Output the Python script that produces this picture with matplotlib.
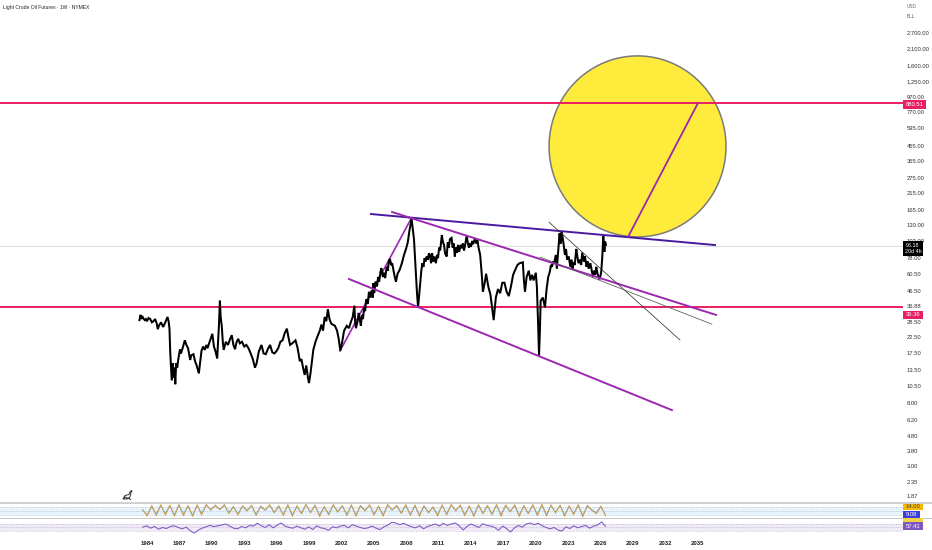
import numpy as np
import matplotlib
matplotlib.use("Agg")
import matplotlib.pyplot as plt
import matplotlib.ticker as mticker
import matplotlib.transforms as mt
from matplotlib.lines import Line2D
from matplotlib.patches import Rectangle

FONT = "Liberation Sans"
plt.rcParams["font.family"] = [FONT, "DejaVu Sans"]

title = "Light Crude Oil Futures · 1W · NYMEX"
price_ticks = [2700, 2100, 1600, 1250, 970, 770, 595, 455, 355, 275, 215, 165, 130, 102, 78,
               60.5, 46.5, 36.88, 28.5, 22.5, 17.5, 13.5, 10.5, 8, 6.2, 4.8, 3.8, 3.0, 2.35, 1.87]
year_ticks = list(range(1984, 2036, 3))

dates = [1983.3,1983.4,1983.5,1983.6,1983.7,1983.8,1983.9,1984.0,1984.15,1984.3,1984.45,1984.6,1984.75,1984.9,
 1985.0,1985.1,1985.3,1985.4,1985.5,1985.65,1985.9,1986.0,1986.08,1986.15,1986.25,1986.3,1986.38,1986.45,1986.55,1986.62,
 1986.7,1986.8,1986.9,1987.05,1987.15,1987.3,1987.5,1987.65,1987.8,1988.0,1988.1,1988.3,1988.45,1988.6,1988.8,
 1989.05,1989.2,1989.35,1989.5,1989.6,1989.75,1990.05,1990.2,1990.35,1990.5,1990.58,1990.67,1990.75,1990.82,1990.92,1991.02,1991.1,
 1991.3,1991.5,1991.7,1991.85,1992.0,1992.15,1992.3,1992.45,1992.6,1992.8,1993.0,1993.2,1993.4,1993.6,1993.8,1994.0,1994.15,
 1994.35,1994.6,1994.8,1995.0,1995.2,1995.4,1995.6,1995.8,1996.0,1996.15,1996.35,1996.55,1996.75,1996.95,1997.1,1997.25,1997.45,
 1997.75,1997.95,1998.15,1998.3,1998.45,1998.6,1998.75,1998.9,1999.0,1999.15,1999.4,1999.6,1999.8,2000.0,2000.15,2000.3,2000.45,
 2000.6,2000.75,2000.9,2001.05,2001.2,2001.4,2001.6,2001.75,2001.9,2002.05,2002.25,2002.5,2002.7,2002.9,2003.05,2003.2,2003.28,2003.35,
 2003.5,2003.6,2003.7,2003.8,2003.9,2004.0,2004.1,2004.2,2004.3,2004.45,2004.55,2004.65,2004.8,2004.9,2004.95,
 2005.05,2005.15,2005.3,2005.4,2005.5,2005.6,2005.7,2005.85,2005.95,2006.05,2006.2,2006.3,2006.4,2006.5,2006.6,2006.7,
 2006.9,2007.05,2007.2,2007.4,2007.6,2007.8,2008.0,2008.15,2008.3,2008.5,2008.6,2008.72,2008.85,2009.0,2009.1,2009.25,
 2009.4,2009.5,2009.6,2009.7,2009.8,2009.9,
 2010.0,2010.1,2010.2,2010.3,2010.4,2010.5,2010.6,2010.75,2010.85,2010.95,
 2011.05,2011.15,2011.3,2011.4,2011.5,2011.6,2011.75,2011.85,2011.95,
 2012.05,2012.2,2012.3,2012.4,2012.5,2012.6,2012.7,2012.8,2012.9,
 2013.05,2013.15,2013.25,2013.35,2013.45,2013.6,2013.7,2013.8,2013.9,
 2014.0,2014.1,2014.2,2014.35,2014.5,2014.6,2014.7,
 2014.85,2015.0,2015.1,2015.25,2015.4,2015.6,2015.8,2016.1,2016.3,
 2016.5,2016.7,2016.9,2017.1,2017.3,2017.5,2017.7,2017.9,2018.1,2018.3,2018.5,2018.8,2018.9,2019.0,2019.15,2019.35,2019.5,2019.65,2019.8,
 2020.0,2020.1,2020.2,2020.3,2020.38,2020.45,2020.65,2020.85,
 2021.0,2021.15,2021.3,2021.4,2021.5,2021.6,2021.7,2021.85,2021.95,
 2022.1,2022.2,2022.3,2022.4,2022.55,2022.7,2022.8,2022.9,
 2023.05,2023.2,2023.3,2023.4,2023.5,2023.6,2023.75,2023.85,2023.95,
 2024.1,2024.2,2024.3,2024.45,2024.55,2024.7,2024.8,2024.9,
 2025.05,2025.15,2025.3,2025.4,2025.5,2025.6,2025.7,2025.8,2025.9,
 2026.05,2026.15,2026.25,2026.35,2026.42,2026.5]
closes = [29.5,32,30.5,31,30,29.5,30,29,30.5,30,28.5,29,30,28,
 25.6,27,28.5,27.5,26.5,28,31,29,26,18,13,11.5,15,12,14,10.8,
 15,14,16,18.6,17.5,19,21.5,20,19,15.8,17,17.3,15.5,14.5,12.8,
 18.3,19.5,18.5,20,19,20.5,23.8,19.5,18,16.2,21,28,40,31,27,21,18.5,
 21,20,22,23.3,20,18.7,21,22,20.5,21,19.5,20,19,17.5,16,14,15,
 18,20,17.5,17.3,18.8,20,17.8,17.5,18.2,19,21,21.5,24,25.8,22.5,20,20.5,
 21.5,19,15.5,16,14,12.5,14.5,12,11,13,18.5,21,23,25,27.5,25,31,
 29,35,30,28,27.5,27,25,22,18.3,20.5,25,27,26,29,31,37,28,26,
 29,33,30,27,32,30,36,34,41,38,46,42,47,42,52.7,
 45,54,50,58,54,62,66.7,58,62,57,68,64,75,77,70,72,
 60,53.8,61,65,72,82,91,100,120,144,125,105,70,45,36,48,
 64,72,68,78,74,80,
 76,84,82,72,84,74,80,72,82,78,
 92,88,112,100,96,84,80,100,92,
 105,107,92,98,80,92,85,96,86,
 96,91,98,88,95,110,100,92,98,
 93,102,97,105,98,103,92,
 82,60,46,52,61,50,44,29.5,42,
 48,45,53,53,46,43,50,60,65,70,72,73,55,46,58,64,55,60,55,
 62,50,30,17,25,40,42,36,
 48,58,63,70,68,74,72,82,66,
 92,115,98,118,100,82,90,76,
 80,68,76,66,73,70,90,80,72,
 76,70,85,74,80,68,74,66,
 72,66,58,64,60,68,62,58,56,
 62,78,110,86,101,96]

stoch_k = [60,12,92,15,98,18,95,10,98,14,92,8,96,20,99,55,95,60,98,30,85,20,90,50,94,15,88,55,97,35,90,15,98,10,90,28,
           99,35,95,8,85,20,98,40,92,15,97,10,92,50,97,18,88,10,99,55,93,30,98,15,96,10,90,35,82,12,97,20,99,50,95,14,
           90,8,98,28,92,20,99,10,96,42,97,8,92,28,98,15,99,12,96,35,95,10,90,22,98,6,92,55,30,88,14]
stoch_d = [55,22,80,28,90,32,88,22,92,28,85,18,90,32,94,62,88,62,92,40,78,30,82,55,88,25,80,58,92,42,82,25,92,22,82,36,
           94,42,88,20,78,30,92,48,85,25,90,22,85,55,92,28,80,22,94,60,86,38,92,25,88,22,82,42,75,24,90,30,94,55,88,25,
           82,20,92,36,85,30,94,22,88,48,90,20,85,36,92,26,94,24,90,42,88,22,82,32,92,18,85,58,38,80,22]
rsi = [52,60,46,56,40,50,44,56,60,50,42,52,32,18,34,46,54,62,55,60,64,70,58,46,42,56,48,62,58,74,60,50,66,48,64,76,58,50,46,58,
       48,40,54,38,60,48,44,34,54,48,58,62,48,66,58,50,44,48,58,46,38,54,64,80,76,66,74,62,54,48,60,42,56,62,70,58,74,62,70,76,
       60,36,56,70,60,50,72,62,58,50,34,58,44,24,48,62,52,70,76,66,74,60,50,42,50,36,30,54,44,60,48,56,62,46,58,64,82,57]

resistance = 880.51
support = 36.36
last_price = 94.6

navy_x, navy_y = [2004.74, 2036.59], [155.6, 95.7]
top_x, top_y = [2006.69, 2036.69], [160.6, 32.0]
low_x, low_y = [2002.7, 2032.6], [56.2, 7.2]
rise_x, rise_y = [2001.87, 2008.44], [18.2, 144.0]
thin1_x, thin1_y = [2021.22, 2033.35], [137.0, 21.6]
thin2_x, thin2_y = [2020.39, 2036.3], [79.3, 27.7]
spoke_x, spoke_y = [2028.54, 2035.02], [108.6, 887.0]
circle_year, circle_price = 2029.42, 449.0
circle_rx_years, circle_ry_decades = 8.19, 0.616

W, H = 932, 550
fig = plt.figure(figsize=(W/100, H/100), dpi=100, facecolor="white")
px = mt.Affine2D().scale(1/W, -1/H).translate(0, 1) + fig.transFigure

def axes_px(x0, y0, x1, y1):
    return fig.add_axes([x0/W, 1-y1/H, (x1-x0)/W, (y1-y0)/H])

XLIM = (1970.39, 2054.0)
ax = axes_px(0, 0, 903, 503)
ax.set_xlim(*XLIM)
ax.set_yscale("log")
ax.set_ylim(1.679, 4455)
for s in ax.spines.values():
    s.set_visible(False)
ax.set_xticks([])
ax.yaxis.tick_right()
ax.set_yticks(price_ticks)
ax.set_yticklabels([f"{v:,.2f}" for v in price_ticks], fontsize=4.2, color="#333333")
ax.tick_params(axis="y", which="both", length=0, pad=2.6)
ax.yaxis.set_minor_locator(mticker.NullLocator())

ax.axhline(last_price, color="#dcdcdc", lw=0.7, zorder=1)
ax.axhline(resistance, color="#e91e63", lw=1.4, zorder=3)
ax.axhline(support, color="#e91e63", lw=1.4, zorder=3)

t = np.linspace(0, 2*np.pi, 361)
cx = circle_year + circle_rx_years*np.cos(t)
cy = circle_price * 10**(circle_ry_decades*np.sin(t))
ax.fill(cx, cy, facecolor="#ffeb3b", edgecolor="#7a7a7a", lw=1.1, zorder=2)

ax.plot(dates, closes, color="#000000", lw=1.45, solid_joinstyle="miter", zorder=4)
ax.plot(navy_x, navy_y, color="#4a1a9e", lw=1.4, zorder=5)
ax.plot(top_x, top_y, color="#9c27b0", lw=1.4, zorder=5)
ax.plot(low_x, low_y, color="#9c27b0", lw=1.4, zorder=5)
ax.plot(rise_x, rise_y, color="#9c27b0", lw=1.2, zorder=3)
ax.plot(spoke_x, spoke_y, color="#9c27b0", lw=1.3, zorder=5)
ax.plot(thin1_x, thin1_y, color="#333333", lw=0.55, zorder=5)
ax.plot(thin2_x, thin2_y, color="#555555", lw=0.55, zorder=5)

ax1 = axes_px(0, 503, 903, 518)
ax1.set_xlim(*XLIM); ax1.set_ylim(-3, 110); ax1.axis("off")
ax1.axhspan(20, 80, color="#e3f2fd", alpha=0.8, lw=0)
for lv in (20, 50, 80):
    ax1.axhline(lv, color="#a8b4c0", lw=0.4, ls=(0, (2, 2)))
ax1.plot(np.linspace(1983.6, 2026.45, len(stoch_d)), stoch_d, color="#6d8fd0", lw=0.65, alpha=0.8)
ax1.plot(np.linspace(1983.6, 2026.45, len(stoch_k)), stoch_k, color="#c9a050", lw=0.75)

ax2 = axes_px(0, 518, 903, 535)
ax2.set_xlim(*XLIM); ax2.set_ylim(7.1, 104.3); ax2.patch.set_alpha(0)
for s in ax2.spines.values():
    s.set_visible(False)
ax2.axhspan(30, 70, color="#ede7f6", alpha=0.8, lw=0)
for lv in (30, 50, 70):
    ax2.axhline(lv, color="#b0a8c0", lw=0.4, ls=(0, (2, 2)))
ax2.plot(np.linspace(1983.6, 2026.45, len(rsi)), rsi, color="#7e57c2", lw=0.75)
ax2.set_yticks([])
ax2.set_xticks(year_ticks)
ax2.set_xticklabels(year_ticks, fontsize=4.3, color="#222222", fontweight="bold")
ax2.tick_params(axis="x", length=0, pad=4.4)

def hline(y, color, lw):
    fig.add_artist(Line2D([0, W], [y, y], color=color, lw=lw, transform=px))
hline(503, "#c8c8c8", 1.2)
hline(518, "#c4c4c4", 0.7)

def tag(x0, y0, x1, y1, fc, text, tc="white", fs=4.2):
    fig.add_artist(Rectangle((x0, y0), x1-x0, y1-y0, facecolor=fc, edgecolor="none", transform=px, zorder=6))
    if text:
        fig.text((x0+x1)/2/W, 1-(y0+y1)/2/H, text, color=tc, fontsize=fs, ha="center", va="center", zorder=7)

tag(903, 100, 926, 109, "#e91e63", "880.51")
tag(903, 311, 923, 319, "#e91e63", "36.36")
tag(903, 240.5, 923, 256, "#000000", "96.18\n20d 4h", fs=3.9)
tag(903, 503.5, 923, 509.5, "#f5b800", "14.00", tc="#444444")
tag(903, 518, 923, 522, "#f0d24a", "")
tag(903, 511, 920, 518, "#3d3dd8", "9.08")
tag(903, 522, 923, 530, "#7e57c2", "57.41")

fig.text(3/W, 1-7/H, title, fontsize=3.65, color="#222222", va="center", ha="left")
fig.text(907/W, 1-7/H, "USD", fontsize=3.4, color="#666666", va="center", ha="left")
fig.text(907/W, 1-17/H, "BLL", fontsize=3.4, color="#555555", va="center", ha="left")

fig.add_artist(Line2D([123, 125, 129, 130, 131.5, 132, 131, 130.5, 129.5, 127, 125, 124, 126, 129, 130.5],
                      [499, 495.5, 494.5, 492, 490.5, 491.5, 492, 495, 498, 498, 497, 499, 499, 498.5, 499.5],
                      color="#333333", lw=0.7, transform=px))

fig.savefig("out.png", dpi=100, facecolor="white")
